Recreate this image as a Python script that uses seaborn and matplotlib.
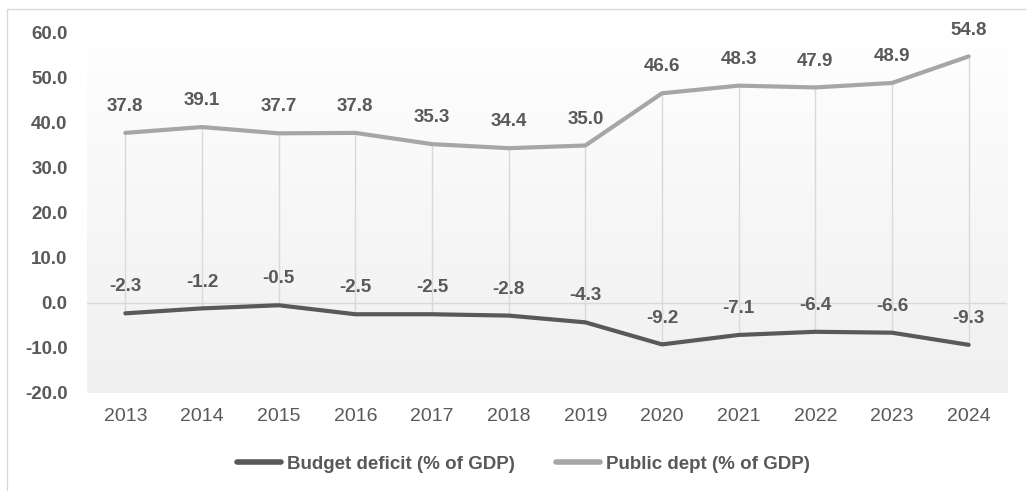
import matplotlib
matplotlib.use("Agg")
import matplotlib.pyplot as plt
from matplotlib.patches import Rectangle
from matplotlib.lines import Line2D
import numpy as np
import pandas as pd
import seaborn as sns

years = [2013, 2014, 2015, 2016, 2017, 2018, 2019, 2020, 2021, 2022, 2023, 2024]
budget_deficit = [-2.3, -1.2, -0.5, -2.5, -2.5, -2.8, -4.3, -9.2, -7.1, -6.4, -6.6, -9.3]
public_debt = [37.8, 39.1, 37.7, 37.8, 35.3, 34.4, 35.0, 46.6, 48.3, 47.9, 48.9, 54.8]
series_names = ["Budget deficit (% of GDP)", "Public dept (% of GDP)"]
y_ticks = [60, 50, 40, 30, 20, 10, 0, -10, -20]

DARK = "#595959"
LIGHT = "#a6a6a6"
TEXT = "#595959"

sns.set_style("white")
plt.rcParams["font.family"] = ["Liberation Sans", "DejaVu Sans"]

pos = list(range(len(years)))
df = pd.DataFrame({
    "pos": pos * 2,
    "value": budget_deficit + public_debt,
    "series": [series_names[0]] * len(years) + [series_names[1]] * len(years),
})

fig = plt.figure(figsize=(10.26, 4.91), dpi=100)
ax = fig.add_axes([0.0848, 0.1996, 0.8967, 0.7332])

# outer frame of the chart
fig.patches.append(Rectangle((7 / 1026, -0.05), 1.1, 1 - 9 / 491 + 0.05,
                             transform=fig.transFigure, fill=False,
                             edgecolor="#d9d9d9", linewidth=1.0))

xmin, xmax = -0.5, len(years) - 0.5
ymin, ymax = -20, 60

# vertical gradient background of the plot area
grad = np.linspace(0, 1, 256).reshape(-1, 1)
top_c = np.array([1.0, 1.0, 1.0])
bot_c = np.array([0xf0, 0xf0, 0xf0]) / 255.0
rgb = top_c + (bot_c - top_c) * grad[..., None] ** 0.9
ax.imshow(rgb, extent=[xmin, xmax, ymin, ymax], origin="upper",
          aspect="auto", zorder=0)

# high-low lines between the two series
ax.vlines(pos, budget_deficit, public_debt, colors="#d9d9d9", linewidth=1.0, zorder=1)
ax.axhline(0, color="#d9d9d9", linewidth=1.0, zorder=1)

sns.lineplot(data=df, x="pos", y="value", hue="series",
             palette=[DARK, LIGHT], linewidth=3.0, ax=ax, legend=False,
             zorder=3)

for series in (public_debt, budget_deficit):
    for x, v in zip(pos, series):
        ax.annotate(f"{v:.1f}", (x, v), xytext=(0, 19), textcoords="offset points",
                    ha="center", va="center", fontsize=13.5, fontweight="bold",
                    color=TEXT, zorder=4)

ax.set_xlim(xmin, xmax)
ax.set_ylim(ymin, ymax)
ax.set_xticks(pos)
ax.set_xticklabels([str(y) for y in years], fontsize=14, color=TEXT)
ax.set_yticks(y_ticks)
ax.set_yticklabels([f"{t:.1f}" for t in y_ticks], fontsize=13.5,
                   fontweight="bold", color=TEXT)
ax.tick_params(axis="both", length=0)
ax.tick_params(axis="x", pad=11)
ax.tick_params(axis="y", pad=14)
ax.set_xlabel("")
ax.set_ylabel("")
for s in ax.spines.values():
    s.set_visible(False)

handles = [Line2D([0], [0], color=DARK, linewidth=4),
           Line2D([0], [0], color=LIGHT, linewidth=4)]
leg = fig.legend(handles, series_names, loc="center",
                 bbox_to_anchor=(0.510, 1 - 464 / 491), ncol=2, frameon=False,
                 handlelength=2.35, handletextpad=0.3, columnspacing=2.2,
                 prop={"family": ["Liberation Sans", "DejaVu Sans"],
                       "weight": "bold", "size": 13.5})
for t in leg.get_texts():
    t.set_color(TEXT)

fig.savefig("out.png", dpi=100)
